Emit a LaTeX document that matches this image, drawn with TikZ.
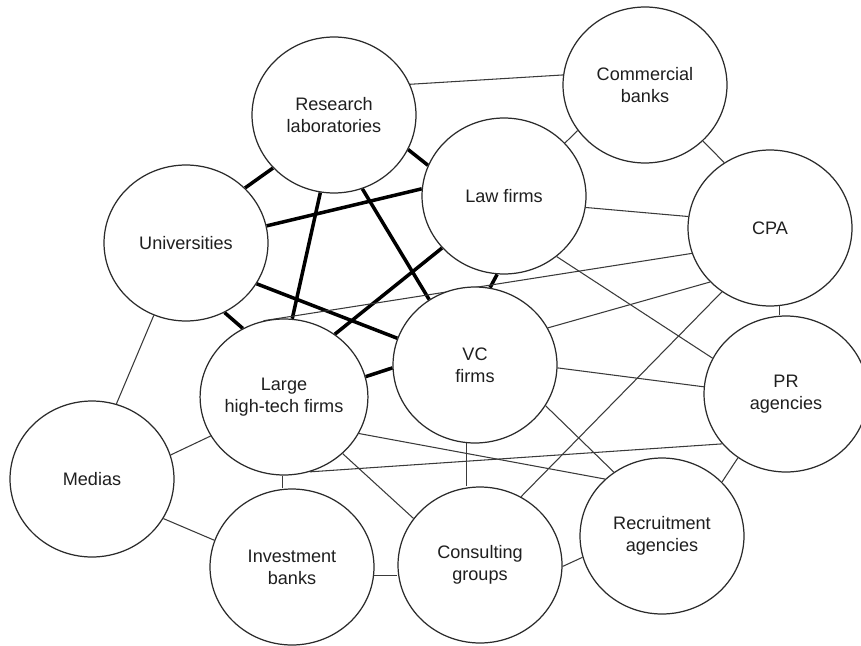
\documentclass[tikz,border=0pt]{standalone}
\usepackage{fontspec}
\setmainfont{Liberation Sans}
\usepackage{xcolor}
\usepackage{tikz}
\usetikzlibrary{shapes.geometric,backgrounds}
\definecolor{inkgray}{HTML}{2B2B2B}
\definecolor{linegray}{HTML}{3A3A3A}

\begin{document}
\begin{tikzpicture}[
  x=0.02cm, y=-0.02cm,
  actor/.style={draw=inkgray, line width=0.7pt, fill=white, ellipse, inner sep=0pt,
                minimum width=3.28cm, minimum height=3.12cm, align=center,
                font=\fontsize{10.3}{12.6}\selectfont, text=black!88},
  tie/.style={draw=linegray, line width=0.6pt},
  coretie/.style={draw=black, line width=2pt}
]
  \useasboundingbox (0,0) rectangle (861,645);

  % the actors
  \node[actor] (res) at (334,115) {Research\\laboratories};
  \node[actor] (com) at (645,85)  {Commercial\\banks};
  \node[actor] (law) at (504,196) {Law firms};
  \node[actor] (cpa) at (770,228) {CPA};
  \node[actor] (uni) at (186,243) {Universities};
  \node[actor] (vc)  at (475,365) {VC\\firms};
  \node[actor] (pr)  at (786,394) {PR\\agencies};
  \node[actor] (lrg) at (284,397) {Large\\high-tech firms};
  \node[actor] (med) at (92,479)  {Medias};
  \node[actor] (inv) at (292,567) {Investment\\banks};
  \node[actor] (con) at (480,565) {Consulting\\groups};
  \node[actor] (rec) at (662,536) {Recruitment\\agencies};

  \begin{scope}[on background layer]
    \fill[white] (0,0) rectangle (861,645);

    % core of the network
    \foreach \a/\b in {res.221/uni.43, res.260/lrg.84, res.291/vc.125, res.335/law.158,
                       uni.12/law.175, uni.330/vc.161, uni.299/lrg.121,
                       law.220/lrg.51, law.265/vc.79, lrg.14/vc.182}
      \draw[coretie] (\a) -- (\b);

    % weaker ties
    \foreach \a/\b in {res.22/com.173, com.214/law.41, com.316/cpa.125, law.352/cpa.172,
                       cpa.198/lrg.105, cpa.222/vc.27, cpa.233/con.59, law.311/pr.154,
                       vc.358/pr.175, vc.330/rec.127, lrg.334/rec.135, lrg.289/pr.218,
                       lrg.316/con.145, lrg.208/med.17, uni.246/med.72, med.331/inv.161,
                       con.359/rec.195, rec.42/pr.233}
      \draw[tie] (\a) -- (\b);
    \draw[tie] (cpa.277) -- (cpa.277 |- pr.north);
    \draw[tie] (vc.264) -- (vc.264 |- con.north);
    \draw[tie] (lrg.269) -- (lrg.269 |- inv.north);
    \draw[tie] (inv.354) -- (inv.354 -| con.west);
  \end{scope}
\end{tikzpicture}
\end{document}
